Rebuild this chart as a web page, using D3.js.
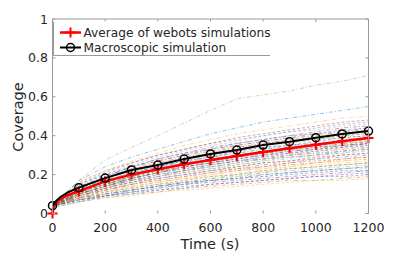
<!DOCTYPE html>
<html>
<head>
<meta charset="utf-8">
<script src="https://cdn.jsdelivr.net/npm/d3@7"></script>
<style>
  body { margin: 0; background: #fff; }
  svg { display: block; font-family: "DejaVu Sans", sans-serif; }
</style>
</head>
<body>
<svg id="chart" width="407" height="253"></svg>
<script>
// sample times for the webots runs
var simTimes = [0, 100, 200, 300, 400, 500, 600, 700, 800, 900, 1000, 1100, 1200];
// coverage of each webots run
var simRuns = [
  [.04,.17,.24,.29,.33,.37,.41,.44,.47,.49,.51,.53,.55],
  [.05,.16,.22,.26,.30,.33,.36,.38,.40,.42,.44,.46,.47],
  [.04,.16,.22,.27,.31,.35,.38,.41,.43,.45,.47,.49,.50],
  [.04,.15,.21,.26,.30,.33,.36,.39,.41,.43,.45,.47,.48],
  [.04,.17,.275,.34,.40,.465,.53,.59,.61,.63,.66,.68,.71],
  [.04,.14,.20,.25,.29,.32,.35,.37,.40,.42,.43,.45,.46],
  [.03,.13,.19,.24,.28,.31,.34,.36,.38,.40,.42,.44,.45],
  [.04,.15,.20,.24,.28,.31,.33,.36,.38,.40,.41,.43,.44],
  [.04,.13,.19,.23,.27,.30,.32,.35,.37,.39,.40,.42,.43],
  [.05,.14,.18,.23,.26,.29,.32,.34,.36,.38,.40,.41,.43],
  [.04,.12,.18,.22,.26,.29,.31,.34,.36,.38,.39,.41,.42],
  [.04,.13,.18,.22,.25,.28,.31,.33,.35,.37,.38,.40,.41],
  [.03,.12,.17,.21,.24,.27,.30,.32,.34,.36,.38,.39,.40],
  [.04,.11,.16,.20,.24,.27,.29,.32,.34,.35,.37,.39,.40],
  [.04,.12,.17,.21,.24,.27,.29,.31,.33,.35,.36,.38,.39],
  [.04,.11,.16,.20,.23,.26,.28,.30,.32,.34,.35,.37,.38],
  [.05,.12,.16,.19,.23,.25,.28,.30,.32,.33,.35,.36,.38],
  [.04,.11,.15,.19,.22,.25,.27,.29,.31,.33,.34,.36,.37],
  [.04,.10,.15,.19,.22,.25,.27,.30,.31,.33,.35,.36,.37],
  [.04,.11,.15,.18,.21,.24,.26,.28,.30,.32,.33,.35,.36],
  [.03,.10,.14,.18,.21,.24,.26,.29,.31,.32,.34,.35,.36],
  [.04,.10,.14,.18,.21,.23,.25,.27,.29,.31,.32,.34,.35],
  [.04,.11,.15,.18,.21,.23,.25,.27,.29,.30,.32,.33,.35],
  [.04,.10,.14,.17,.20,.22,.24,.26,.28,.30,.31,.33,.34],
  [.04,.09,.13,.17,.19,.22,.24,.26,.28,.29,.30,.32,.33],
  [.04,.10,.14,.17,.20,.22,.24,.25,.27,.29,.30,.31,.33],
  [.03,.09,.13,.16,.19,.21,.23,.25,.27,.28,.30,.31,.32],
  [.04,.09,.13,.16,.18,.20,.22,.24,.26,.27,.29,.30,.31],
  [.04,.09,.12,.15,.18,.20,.22,.23,.25,.26,.28,.29,.30],
  [.04,.08,.12,.15,.17,.19,.21,.23,.24,.26,.27,.28,.29],
  [.04,.09,.12,.14,.16,.18,.20,.22,.23,.25,.26,.27,.28],
  [.04,.08,.11,.13,.15,.17,.19,.20,.22,.23,.24,.25,.26],
  [.03,.08,.10,.13,.15,.16,.18,.19,.21,.22,.23,.24,.25],
  [.04,.07,.10,.12,.14,.16,.17,.19,.20,.21,.22,.23,.24],
  [.04,.07,.09,.11,.13,.15,.16,.17,.18,.19,.20,.21,.22],
  [.04,.06,.09,.10,.12,.13,.15,.16,.17,.18,.19,.19,.20],
  [.03,.06,.08,.10,.11,.13,.14,.15,.16,.17,.17,.18,.19],
  [.04,.06,.08,.09,.11,.12,.13,.14,.15,.16,.17,.17,.18],
  [.04,.14,.19,.24,.27,.30,.33,.35,.37,.39,.41,.42,.44],
  [.04,.12,.17,.21,.25,.28,.30,.33,.35,.37,.38,.40,.41],
  [.05,.13,.17,.21,.24,.26,.29,.31,.33,.35,.36,.37,.39],
  [.04,.11,.15,.19,.22,.24,.26,.28,.30,.31,.33,.34,.36],
  [.04,.10,.14,.17,.20,.22,.25,.27,.28,.30,.31,.32,.34],
  [.04,.10,.13,.16,.19,.21,.23,.24,.26,.27,.28,.30,.31],
  [.04,.08,.11,.14,.16,.18,.19,.21,.22,.24,.25,.26,.27],
  [.04,.07,.09,.11,.12,.14,.15,.16,.17,.18,.19,.20,.21],
  [.04,.07,.10,.12,.14,.16,.18,.20,.21,.23,.24,.25,.26],
  [.03,.06,.09,.11,.13,.15,.17,.18,.19,.21,.22,.23,.23],
  [.04,.08,.10,.12,.14,.16,.17,.18,.20,.21,.22,.23,.24],
  [.04,.07,.09,.12,.14,.15,.17,.18,.19,.20,.21,.22,.22],
  [.04,.09,.12,.15,.17,.19,.21,.22,.24,.25,.26,.28,.29],
  [.04,.08,.11,.14,.16,.18,.20,.22,.23,.24,.26,.27,.28],
  [.04,.10,.14,.18,.21,.24,.26,.28,.30,.32,.33,.35,.36],
  [.05,.11,.15,.19,.22,.25,.27,.29,.31,.33,.34,.35,.37]
];
// average of the webots runs
var avgTimes = [0, 5, 20, 50, 100, 200, 300, 400, 500, 600, 700, 800, 900, 1000, 1100, 1200];
var avgValues = [0, .04, .065, .09, .115, .165, .20, .228, .253, .275, .296, .316, .335, .353, .371, .388];
// macroscopic model
var macroTimes = [0, 10, 30, 60, 100, 200, 300, 400, 500, 600, 700, 800, 900, 1000, 1100, 1200];
var macroValues = [.04, .06, .085, .11, .133, .182, .224, .249, .28, .306, .326, .352, .369, .39, .409, .424];
var markerTimes = [0, 100, 200, 300, 400, 500, 600, 700, 800, 900, 1000, 1100, 1200];
var xTicks = [0, 200, 400, 600, 800, 1000, 1200];
var yTicks = [0, 0.2, 0.4, 0.6, 0.8, 1];
var legendLabels = ["Average of webots simulations", "Macroscopic simulation"];

var matlabColors = ["#0072BD", "#D95319", "#EDB120", "#7E2F8E", "#77AC30", "#4DBEEE", "#A2142F"];

var svg = d3.select("#chart");
var plotL = 52.5, plotR = 368.5, plotT = 19, plotB = 213.5;
var x = d3.scaleLinear().domain([0, 1200]).range([plotL, plotR]);
var y = d3.scaleLinear().domain([0, 1]).range([plotB, plotT]);
var textColor = "#262626", axisColor = "#9a9a9a";

var line = d3.line().x(function (d) { return x(d[0]); }).y(function (d) { return y(d[1]); });

// webots runs, thin dashed
svg.append("g").selectAll("path").data(simRuns).enter().append("path")
  .attr("d", function (run) { return line(run.map(function (v, i) { return [simTimes[i], v]; })); })
  .attr("fill", "none")
  .attr("stroke", function (d, i) { return matlabColors[i % 7]; })
  .attr("stroke-width", 0.7)
  .attr("stroke-opacity", 0.6)
  .attr("stroke-dasharray", function (d, i) { return i % 2 ? "3,2" : "4,2,1,2"; });

// average
var avgPts = avgTimes.map(function (t, i) { return [t, avgValues[i]]; });
svg.append("path").attr("d", line(avgPts))
  .attr("fill", "none").attr("stroke", "#ff0000").attr("stroke-width", 2.5);
var redMarks = avgPts.filter(function (d) { return markerTimes.indexOf(d[0]) >= 0; });
function plus(g, cx, cy) {
  g.append("path").attr("d", "M" + (cx - 5) + "," + cy + "H" + (cx + 5) + "M" + cx + "," + (cy - 5) + "V" + (cy + 5))
    .attr("stroke", "#ff0000").attr("stroke-width", 2).attr("fill", "none");
}
var gRed = svg.append("g");
redMarks.forEach(function (d) { plus(gRed, x(d[0]), y(d[1])); });

// macroscopic
var macroPts = macroTimes.map(function (t, i) { return [t, macroValues[i]]; });
svg.append("path").attr("d", line(macroPts))
  .attr("fill", "none").attr("stroke", "#000").attr("stroke-width", 2);
svg.append("g").selectAll("circle")
  .data(macroPts.filter(function (d) { return markerTimes.indexOf(d[0]) >= 0; }))
  .enter().append("circle")
  .attr("cx", function (d) { return x(d[0]); })
  .attr("cy", function (d) { return y(d[1]); })
  .attr("r", 4).attr("fill", "none").attr("stroke", "#000").attr("stroke-width", 1.5);

// axes box (no bottom line, like the picture)
var axes = svg.append("g").attr("stroke", axisColor).attr("stroke-width", 1).attr("fill", "none");
axes.append("path").attr("d", "M" + plotL + "," + plotB + "V" + plotT + "H" + plotR + "V" + plotB);
xTicks.forEach(function (t) {
  axes.append("path").attr("d", "M" + x(t) + "," + plotB + "v-3M" + x(t) + "," + plotT + "v3");
});
yTicks.forEach(function (t) {
  axes.append("path").attr("d", "M" + plotL + "," + y(t) + "h3M" + plotR + "," + y(t) + "h-3");
});

svg.append("g").selectAll("text").data(xTicks).enter().append("text")
  .attr("x", function (d) { return x(d); }).attr("y", 232)
  .attr("text-anchor", "middle").attr("font-size", 12.5).attr("fill", textColor)
  .text(function (d) { return d; });
svg.append("g").selectAll("text").data(yTicks).enter().append("text")
  .attr("x", 48).attr("y", function (d) { return y(d) + 4.5; })
  .attr("text-anchor", "end").attr("font-size", 12.5).attr("fill", textColor)
  .text(function (d) { return d; });

svg.append("text").attr("x", 210).attr("y", 248.5).attr("text-anchor", "middle")
  .attr("font-size", 14.5).attr("fill", textColor).text("Time (s)");
svg.append("text").attr("transform", "translate(22.5,117) rotate(-90)").attr("text-anchor", "middle")
  .attr("font-size", 14.5).attr("fill", textColor).text("Coverage");

// legend
var lg = svg.append("g");
lg.append("rect").attr("x", 53.5).attr("y", 21.5).attr("width", 217).attr("height", 34).attr("fill", "#fff");
lg.append("path").attr("d", "M53.5,21.5V55.5H270").attr("stroke", axisColor).attr("fill", "none");
var rowY = [32.5, 47.5];
lg.append("line").attr("x1", 60).attr("x2", 81).attr("y1", rowY[0]).attr("y2", rowY[0])
  .attr("stroke", "#ff0000").attr("stroke-width", 2.5);
plus(lg, 70.5, rowY[0]);
lg.append("line").attr("x1", 60).attr("x2", 81).attr("y1", rowY[1]).attr("y2", rowY[1])
  .attr("stroke", "#000").attr("stroke-width", 2);
lg.append("circle").attr("cx", 70.5).attr("cy", rowY[1]).attr("r", 4)
  .attr("fill", "none").attr("stroke", "#000").attr("stroke-width", 1.5);
lg.selectAll("text.lab").data(legendLabels).enter().append("text")
  .attr("x", 83.5).attr("y", function (d, i) { return rowY[i] + 4.5; })
  .attr("font-size", 12.2).attr("fill", textColor)
  .text(function (d) { return d; });
</script>
</body>
</html>
